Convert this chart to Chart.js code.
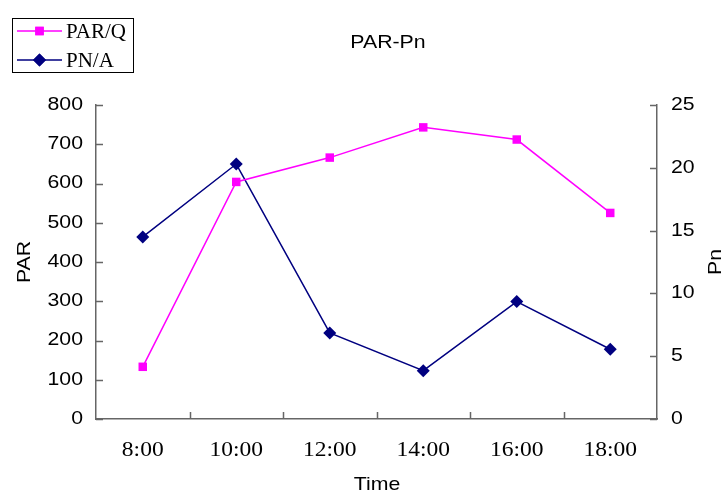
<!DOCTYPE html>
<html>
<head>
<meta charset="utf-8">
<script src="https://cdn.jsdelivr.net/npm/chart.js@4/dist/chart.umd.min.js"></script>
<style>
html,body{margin:0;padding:0;background:#fff;}
#wrap{width:722px;height:495px;position:relative;}
</style>
</head>
<body>
<div id="wrap"><canvas id="c" width="722" height="495"></canvas></div>
<script>
const categories = ['8:00', '10:00', '12:00', '14:00', '16:00', '18:00'];
const parValues = [133, 604, 666, 743, 712, 525];
const pnValues = [14.5, 20.3, 6.85, 3.85, 9.35, 5.55];
const parTicks = [0, 100, 200, 300, 400, 500, 600, 700, 800];
const pnTicks = [0, 5, 10, 15, 20, 25];
const seriesNames = ['PAR/Q', 'PN/A'];
const chartTitle = 'PAR-Pn';
const axisTitles = {x: 'Time', y: 'PAR', y1: 'Pn'};

const MAGENTA = '#FF00FF';
const NAVY = '#000080';
const AXIS = '#666666';
const SANS = '"Liberation Sans", Arial, sans-serif';
const SERIF = '"Liberation Serif", "DejaVu Serif", serif';

function drawText(ctx, text, x, y, font, align, sx, rot) {
  ctx.save();
  ctx.font = font;
  ctx.fillStyle = '#000';
  ctx.textBaseline = 'middle';
  ctx.textAlign = align;
  ctx.translate(x, y);
  if (rot) ctx.rotate(rot);
  ctx.scale(sx, 1);
  ctx.fillText(text, 0, 0);
  ctx.restore();
}

const overlay = {
  id: 'overlay',
  afterDraw(chart) {
    const ctx = chart.ctx;
    const area = chart.chartArea;
    const sx = chart.scales.x, sy = chart.scales.y, sy1 = chart.scales.y1;
    ctx.save();
    // inward tick marks
    ctx.strokeStyle = AXIS;
    ctx.lineWidth = 1.5;
    ctx.beginPath();
    sy.ticks.forEach(t => {
      const p = Math.round(sy.getPixelForValue(t.value)) + 0.5;
      ctx.moveTo(area.left, p); ctx.lineTo(area.left + 7, p);
    });
    sy1.ticks.forEach(t => {
      const p = Math.round(sy1.getPixelForValue(t.value)) + 0.5;
      ctx.moveTo(area.right, p); ctx.lineTo(area.right - 7, p);
    });
    for (let i = 1; i < categories.length; i++) {
      const p = Math.round(sx.getPixelForValue(i - 0.5)) + 0.5;
      ctx.moveTo(p, area.bottom); ctx.lineTo(p, area.bottom - 7);
    }
    ctx.stroke();
    // tick labels
    sy.ticks.forEach(t => drawText(ctx, String(t.value), area.left - 13, sy.getPixelForValue(t.value), '18px ' + SANS, 'right', 1.18));
    sy1.ticks.forEach(t => drawText(ctx, String(t.value), area.right + 14, sy1.getPixelForValue(t.value), '18px ' + SANS, 'left', 1.18));
    categories.forEach((c, i) => drawText(ctx, c, sx.getPixelForValue(i), 450, '21px ' + SERIF, 'center', 1.12));
    // titles
    drawText(ctx, chartTitle, 388, 43, '19px ' + SANS, 'center', 1.12);
    drawText(ctx, axisTitles.x, 377, 485, '19px ' + SANS, 'center', 1.12);
    const midY = (area.top + area.bottom) / 2;
    drawText(ctx, axisTitles.y, 25, midY, '19px ' + SANS, 'center', 1.12, -Math.PI / 2);
    drawText(ctx, axisTitles.y1, 716, midY, '19px ' + SANS, 'center', 1.12, -Math.PI / 2);
    // legend box
    ctx.strokeStyle = '#000';
    ctx.lineWidth = 1;
    ctx.strokeRect(12.5, 18.5, 121, 54);
    const items = [
      {label: chart.data.datasets[0].label, color: MAGENTA, style: 'rect', r: 6, y: 31},
      {label: chart.data.datasets[1].label, color: NAVY, style: 'rectRot', r: 6.5, y: 60}
    ];
    items.forEach(it => {
      ctx.strokeStyle = it.color;
      ctx.lineWidth = 1.5;
      ctx.beginPath();
      ctx.moveTo(17, it.y);
      ctx.lineTo(62, it.y);
      ctx.stroke();
      ctx.fillStyle = it.color;
      Chart.helpers.drawPoint(ctx, {pointStyle: it.style, radius: it.r, borderWidth: 0}, 39.5, it.y);
      ctx.fill();
      drawText(ctx, it.label, 66, it.y + 1, '21px ' + SERIF, 'left', 1.0);
    });
    ctx.restore();
  }
};

new Chart(document.getElementById('c'), {
  type: 'line',
  data: {
    labels: categories,
    datasets: [
      {
        label: seriesNames[0],
        data: parValues,
        yAxisID: 'y',
        borderColor: MAGENTA,
        backgroundColor: MAGENTA,
        borderWidth: 1.5,
        pointStyle: 'rect',
        pointRadius: 6,
        pointBorderWidth: 0,
        tension: 0,
        clip: false
      },
      {
        label: seriesNames[1],
        data: pnValues,
        yAxisID: 'y1',
        borderColor: NAVY,
        backgroundColor: NAVY,
        borderWidth: 1.5,
        pointStyle: 'rectRot',
        pointRadius: 6.5,
        pointBorderWidth: 0,
        tension: 0,
        clip: false
      }
    ]
  },
  options: {
    responsive: false,
    animation: false,
    devicePixelRatio: 1,
    layout: {padding: {top: 105, left: 0, right: 0, bottom: 0}},
    plugins: {legend: {display: false}, title: {display: false}, tooltip: {enabled: false}},
    scales: {
      x: {
        type: 'category',
        offset: true,
        grid: {display: false},
        border: {display: true, color: AXIS, width: 1.5},
        ticks: {display: false},
        afterFit(s) { s.height = 76; }
      },
      y: {
        position: 'left',
        min: 0, max: 800,
        afterBuildTicks(s) { s.ticks = parTicks.map(v => ({value: v})); },
        grid: {display: false},
        border: {display: true, color: AXIS, width: 1.5},
        ticks: {display: false},
        afterFit(s) { s.width = 96; }
      },
      y1: {
        position: 'right',
        min: 0, max: 25,
        afterBuildTicks(s) { s.ticks = pnTicks.map(v => ({value: v})); },
        grid: {display: false},
        border: {display: true, color: AXIS, width: 1.5},
        ticks: {display: false},
        afterFit(s) { s.width = 65; }
      }
    }
  },
  plugins: [overlay]
});
</script>
</body>
</html>
